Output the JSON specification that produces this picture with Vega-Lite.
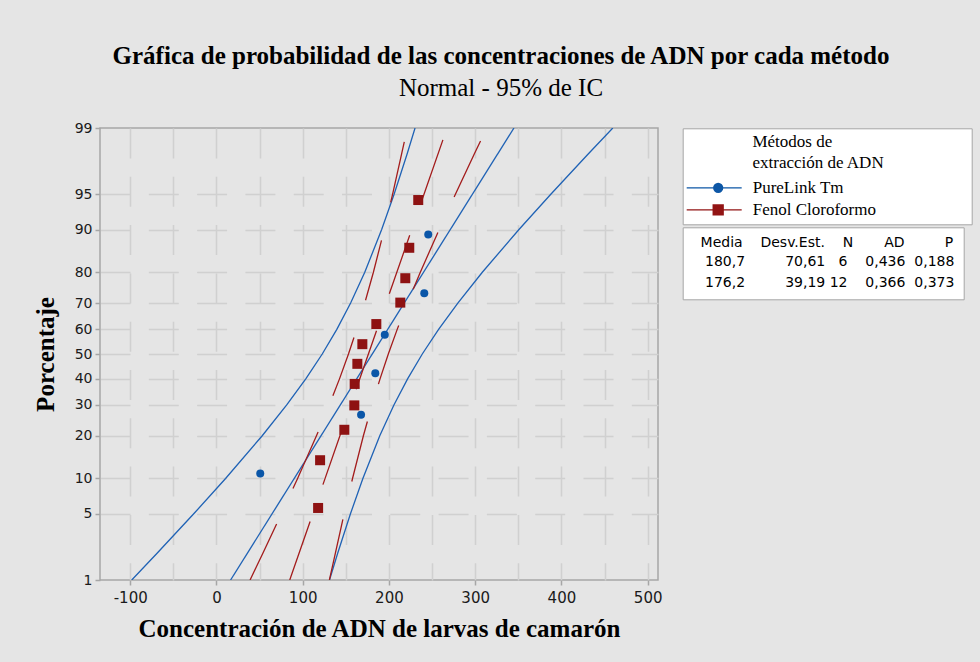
{
  "$schema": "https://vega.github.io/schema/vega-lite/v6.json",
  "width": 558,
  "height": 452,
  "autosize": {"type": "none"},
  "padding": {"left": 100, "top": 128, "right": 322, "bottom": 82},
  "background": "#e5e5e5",
  "title": {
    "text": "Gráfica de probabilidad de las concentraciones de ADN por cada método",
    "subtitle": "Normal - 95% de IC",
    "anchor": "middle",
    "frame": "group",
    "dx": 122,
    "offset": 20,
    "font": "Liberation Serif",
    "fontSize": 25,
    "fontWeight": "bold",
    "color": "#000000",
    "subtitleFont": "Liberation Serif",
    "subtitleFontSize": 25,
    "subtitleFontWeight": "normal",
    "subtitleColor": "#000000",
    "subtitlePadding": 7
  },
  "datasets": {
    "puntos": [
      {"metodo": "PureLink Tm", "pct": 10.94, "conc": 50.8},
      {"metodo": "PureLink Tm", "pct": 26.56, "conc": 167.7},
      {"metodo": "PureLink Tm", "pct": 42.19, "conc": 184.2},
      {"metodo": "PureLink Tm", "pct": 57.81, "conc": 195.2},
      {"metodo": "PureLink Tm", "pct": 73.44, "conc": 241.0},
      {"metodo": "PureLink Tm", "pct": 89.06, "conc": 245.6},
      {"metodo": "Fenol Cloroformo", "pct": 5.65, "conc": 117.9},
      {"metodo": "Fenol Cloroformo", "pct": 13.71, "conc": 120.2},
      {"metodo": "Fenol Cloroformo", "pct": 21.77, "conc": 148.3},
      {"metodo": "Fenol Cloroformo", "pct": 29.84, "conc": 159.9},
      {"metodo": "Fenol Cloroformo", "pct": 37.9, "conc": 160.3},
      {"metodo": "Fenol Cloroformo", "pct": 45.97, "conc": 163.4},
      {"metodo": "Fenol Cloroformo", "pct": 54.03, "conc": 169.2},
      {"metodo": "Fenol Cloroformo", "pct": 62.1, "conc": 185.4},
      {"metodo": "Fenol Cloroformo", "pct": 70.16, "conc": 213.2},
      {"metodo": "Fenol Cloroformo", "pct": 78.23, "conc": 219.0},
      {"metodo": "Fenol Cloroformo", "pct": 86.29, "conc": 223.6},
      {"metodo": "Fenol Cloroformo", "pct": 94.35, "conc": 234.0}
    ],
    "curvas": [
      {"metodo": "PureLink Tm", "linea": "ajuste", "pct": 1, "conc": 16.4},
      {"metodo": "PureLink Tm", "linea": "ajuste", "pct": 99, "conc": 345.0},
      {"metodo": "PureLink Tm", "linea": "inferior", "pct": 1, "conc": -98.2},
      {"metodo": "PureLink Tm", "linea": "inferior", "pct": 2, "conc": -69.1},
      {"metodo": "PureLink Tm", "linea": "inferior", "pct": 5, "conc": -26.3},
      {"metodo": "PureLink Tm", "linea": "inferior", "pct": 10, "conc": 10.6},
      {"metodo": "PureLink Tm", "linea": "inferior", "pct": 20, "conc": 53.1},
      {"metodo": "PureLink Tm", "linea": "inferior", "pct": 30, "conc": 81.5},
      {"metodo": "PureLink Tm", "linea": "inferior", "pct": 40, "conc": 103.8},
      {"metodo": "PureLink Tm", "linea": "inferior", "pct": 50, "conc": 122.7},
      {"metodo": "PureLink Tm", "linea": "inferior", "pct": 60, "conc": 139.6},
      {"metodo": "PureLink Tm", "linea": "inferior", "pct": 70, "conc": 155.6},
      {"metodo": "PureLink Tm", "linea": "inferior", "pct": 80, "conc": 172.0},
      {"metodo": "PureLink Tm", "linea": "inferior", "pct": 90, "conc": 191.6},
      {"metodo": "PureLink Tm", "linea": "inferior", "pct": 95, "conc": 206.0},
      {"metodo": "PureLink Tm", "linea": "inferior", "pct": 98, "conc": 220.9},
      {"metodo": "PureLink Tm", "linea": "inferior", "pct": 99, "conc": 230.3},
      {"metodo": "PureLink Tm", "linea": "superior", "pct": 1, "conc": 131.1},
      {"metodo": "PureLink Tm", "linea": "superior", "pct": 2, "conc": 140.5},
      {"metodo": "PureLink Tm", "linea": "superior", "pct": 5, "conc": 155.4},
      {"metodo": "PureLink Tm", "linea": "superior", "pct": 10, "conc": 169.8},
      {"metodo": "PureLink Tm", "linea": "superior", "pct": 20, "conc": 189.4},
      {"metodo": "PureLink Tm", "linea": "superior", "pct": 30, "conc": 205.8},
      {"metodo": "PureLink Tm", "linea": "superior", "pct": 40, "conc": 221.8},
      {"metodo": "PureLink Tm", "linea": "superior", "pct": 50, "conc": 238.7},
      {"metodo": "PureLink Tm", "linea": "superior", "pct": 60, "conc": 257.6},
      {"metodo": "PureLink Tm", "linea": "superior", "pct": 70, "conc": 279.9},
      {"metodo": "PureLink Tm", "linea": "superior", "pct": 80, "conc": 308.3},
      {"metodo": "PureLink Tm", "linea": "superior", "pct": 90, "conc": 350.8},
      {"metodo": "PureLink Tm", "linea": "superior", "pct": 95, "conc": 387.7},
      {"metodo": "PureLink Tm", "linea": "superior", "pct": 98, "conc": 430.5},
      {"metodo": "PureLink Tm", "linea": "superior", "pct": 99, "conc": 459.6},
      {"metodo": "Fenol Cloroformo", "linea": "ajuste", "pct": 1, "conc": 85.0},
      {"metodo": "Fenol Cloroformo", "linea": "ajuste", "pct": 99, "conc": 267.4},
      {"metodo": "Fenol Cloroformo", "linea": "inferior", "pct": 1, "conc": 39.0},
      {"metodo": "Fenol Cloroformo", "linea": "inferior", "pct": 2, "conc": 53.7},
      {"metodo": "Fenol Cloroformo", "linea": "inferior", "pct": 5, "conc": 75.3},
      {"metodo": "Fenol Cloroformo", "linea": "inferior", "pct": 10, "conc": 94.1},
      {"metodo": "Fenol Cloroformo", "linea": "inferior", "pct": 20, "conc": 116.0},
      {"metodo": "Fenol Cloroformo", "linea": "inferior", "pct": 30, "conc": 130.9},
      {"metodo": "Fenol Cloroformo", "linea": "inferior", "pct": 40, "conc": 142.8},
      {"metodo": "Fenol Cloroformo", "linea": "inferior", "pct": 50, "conc": 153.1},
      {"metodo": "Fenol Cloroformo", "linea": "inferior", "pct": 60, "conc": 162.6},
      {"metodo": "Fenol Cloroformo", "linea": "inferior", "pct": 70, "conc": 172.0},
      {"metodo": "Fenol Cloroformo", "linea": "inferior", "pct": 80, "conc": 182.0},
      {"metodo": "Fenol Cloroformo", "linea": "inferior", "pct": 90, "conc": 194.6},
      {"metodo": "Fenol Cloroformo", "linea": "inferior", "pct": 95, "conc": 204.3},
      {"metodo": "Fenol Cloroformo", "linea": "inferior", "pct": 98, "conc": 214.6},
      {"metodo": "Fenol Cloroformo", "linea": "inferior", "pct": 99, "conc": 221.4},
      {"metodo": "Fenol Cloroformo", "linea": "superior", "pct": 1, "conc": 131.0},
      {"metodo": "Fenol Cloroformo", "linea": "superior", "pct": 2, "conc": 137.8},
      {"metodo": "Fenol Cloroformo", "linea": "superior", "pct": 5, "conc": 148.1},
      {"metodo": "Fenol Cloroformo", "linea": "superior", "pct": 10, "conc": 157.8},
      {"metodo": "Fenol Cloroformo", "linea": "superior", "pct": 20, "conc": 170.4},
      {"metodo": "Fenol Cloroformo", "linea": "superior", "pct": 30, "conc": 180.4},
      {"metodo": "Fenol Cloroformo", "linea": "superior", "pct": 40, "conc": 189.8},
      {"metodo": "Fenol Cloroformo", "linea": "superior", "pct": 50, "conc": 199.3},
      {"metodo": "Fenol Cloroformo", "linea": "superior", "pct": 60, "conc": 209.6},
      {"metodo": "Fenol Cloroformo", "linea": "superior", "pct": 70, "conc": 221.5},
      {"metodo": "Fenol Cloroformo", "linea": "superior", "pct": 80, "conc": 236.4},
      {"metodo": "Fenol Cloroformo", "linea": "superior", "pct": 90, "conc": 258.3},
      {"metodo": "Fenol Cloroformo", "linea": "superior", "pct": 95, "conc": 277.1},
      {"metodo": "Fenol Cloroformo", "linea": "superior", "pct": 98, "conc": 298.7},
      {"metodo": "Fenol Cloroformo", "linea": "superior", "pct": 99, "conc": 313.4}
    ],
    "estad": [
      {"metodo": "PureLink Tm", "media": 180.7, "desv": 70.61, "n": 6, "ad": 0.436, "p": 0.188},
      {"metodo": "Fenol Cloroformo", "media": 176.2, "desv": 39.19, "n": 12, "ad": 0.366, "p": 0.373}
    ]
  },
  "layer": [
    {
      "data": {"name": "curvas"},
      "transform": [
        {"filter": "datum.metodo === 'PureLink Tm'"},
        {"calculate": "quantileNormal(datum.pct / 100)", "as": "z"}
      ],
      "mark": {"type": "line", "color": "#1f62b5", "strokeWidth": 1.3, "clip": true},
      "encoding": {
        "x": {
          "field": "conc", "type": "quantitative",
          "scale": {"domain": [-135, 512], "nice": false, "zero": false},
          "axis": {
            "values": [-100, -50, 0, 50, 100, 150, 200, 250, 300, 350, 400, 450, 500],
            "tickCount": 20,
            "labelExpr": "datum.value % 100 === 0 ? '' + datum.value : ''",
            "tickOpacity": {"condition": {"test": "datum.value % 100 !== 0", "value": 0}, "value": 1},
            "labelFontSize": 15,
            "labelPadding": 5,
            "labelOverlap": false,
            "title": "Concentración de ADN de larvas de camarón",
            "titlePadding": 11
          }
        },
        "y": {
          "field": "z", "type": "quantitative",
          "scale": {"domain": [-2.32635, 2.32635], "nice": false, "zero": false},
          "axis": {
            "values": [-2.32635, -1.64485, -1.28155, -0.84162, -0.5244, -0.25335, 0, 0.25335, 0.5244, 0.84162, 1.28155, 1.64485, 2.32635],
            "tickCount": 20,
            "labelExpr": "format(cumulativeNormal(datum.value) * 100, '.0f')",
            "labelFontSize": 14,
            "labelPadding": 3,
            "labelOverlap": false,
            "gridOpacity": {"condition": {"test": "abs(datum.value) > 2.3", "value": 0}, "value": 1},
            "title": "Porcentaje",
            "titlePadding": 16
          }
        },
        "detail": {"field": "linea"},
        "order": {"field": "pct", "type": "quantitative"}
      }
    },
    {
      "data": {"name": "curvas"},
      "transform": [
        {"filter": "datum.metodo === 'Fenol Cloroformo'"},
        {"calculate": "quantileNormal(datum.pct / 100)", "as": "z"}
      ],
      "mark": {"type": "line", "color": "#a31c1c", "strokeWidth": 1.3, "strokeDash": [62, 39], "clip": true},
      "encoding": {
        "x": {"field": "conc", "type": "quantitative"},
        "y": {"field": "z", "type": "quantitative"},
        "detail": {"field": "linea"},
        "order": {"field": "pct", "type": "quantitative"}
      }
    },
    {
      "data": {"name": "puntos"},
      "transform": [
        {"filter": "datum.metodo === 'PureLink Tm'"},
        {"calculate": "quantileNormal(datum.pct / 100)", "as": "z"}
      ],
      "mark": {"type": "point", "shape": "circle", "filled": true, "size": 64, "color": "#0a56a8", "opacity": 1, "clip": true},
      "encoding": {
        "x": {"field": "conc", "type": "quantitative"},
        "y": {"field": "z", "type": "quantitative"}
      }
    },
    {
      "data": {"name": "puntos"},
      "transform": [
        {"filter": "datum.metodo === 'Fenol Cloroformo'"},
        {"calculate": "quantileNormal(datum.pct / 100)", "as": "z"}
      ],
      "mark": {"type": "point", "shape": "square", "filled": true, "size": 100, "color": "#8e1212", "opacity": 1, "clip": true},
      "encoding": {
        "x": {"field": "conc", "type": "quantitative"},
        "y": {"field": "z", "type": "quantitative"}
      }
    },
    {
      "data": {"name": "estad"},
      "mark": {"type": "point", "filled": false, "opacity": 0},
      "encoding": {
        "stroke": {
          "field": "metodo", "type": "nominal",
          "scale": {"domain": ["PureLink Tm", "Fenol Cloroformo"], "range": ["#0d57a6", "#921414"]},
          "legend": {
            "orient": "none",
            "legendX": 582.7,
            "legendY": 0.3,
            "direction": "vertical",
            "fillColor": "#ffffff",
            "strokeColor": "#a6a6a6",
            "padding": 6,
            "title": ["\u200b\u00a0\u00a0\u00a0\u00a0\u00a0\u00a0\u00a0\u00a0\u00a0\u00a0\u00a0\u00a0\u00a0\u00a0\u00a0Métodos de", "\u200b\u00a0\u00a0\u00a0\u00a0\u00a0\u00a0\u00a0\u00a0\u00a0\u00a0\u00a0\u00a0\u00a0\u00a0\u00a0extracción de ADN\u00a0\u00a0\u00a0\u00a0\u00a0\u00a0\u00a0\u00a0\u00a0\u00a0\u00a0\u00a0\u00a0\u00a0\u00a0\u00a0\u00a0\u00a0\u00a0\u200b"],
            "titleFont": "Liberation Serif",
            "titleFontSize": 17,
            "titleFontWeight": "normal",
            "titleColor": "#000000",
            "titleLineHeight": 21,
            "titlePadding": 7,
            "titleLimit": 0,
            "labelFont": "Liberation Serif",
            "labelFontSize": 17,
            "labelColor": "#000000",
            "labelLimit": 0,
            "labelOffset": 26,
            "rowPadding": 4,
            "symbolSize": 100,
            "symbolStrokeWidth": 1.3,
            "symbolOffset": 21,
            "symbolOpacity": 1
          }
        },
        "shape": {
          "field": "metodo", "type": "nominal",
          "scale": {"domain": ["PureLink Tm", "Fenol Cloroformo"], "range": [
            "M-6.3,0H4.7M0.9,0A0.9,0.9,0,1,1,-0.9,0A0.9,0.9,0,1,1,0.9,0ZM-0.41,-0.8H0.41M-0.67,-0.6H0.67M-0.81,-0.4H0.81M-0.88,-0.2H0.88M-0.88,0.2H0.88M-0.81,0.4H0.81M-0.67,0.6H0.67M-0.41,0.8H0.41",
            "M-6.3,0H4.7M-1,-1H1V1H-1ZM-1,-0.8H1M-1,-0.6H1M-1,-0.4H1M-1,-0.2H1M-1,0.2H1M-1,0.4H1M-1,0.6H1M-1,0.8H1"
          ]}
        }
      }
    },
    {
      "data": {"name": "estad"},
      "transform": [
        {"calculate": "replace(format(datum.media, '.1f'), '.', ',') + '\u2007\u2007\u2007\u2007\u00a0' + replace(format(datum.desv, '.2f'), '.', ',') + '\u00a0' + (datum.n < 10 ? '\u2007' : '') + datum.n + '\u2007\u00a0\u00a0' + replace(format(datum.ad, '.3f'), '.', ',') + '\u00a0\u00a0' + replace(format(datum.p, '.3f'), '.', ',')", "as": "fila"}
      ],
      "mark": {"type": "point", "opacity": 0},
      "encoding": {
        "color": {
          "field": "fila", "type": "nominal", "sort": "descending",
          "scale": {"range": ["transparent", "transparent"]},
          "legend": {
            "orient": "none",
            "legendX": 582.7,
            "legendY": 99.3,
            "direction": "vertical",
            "fillColor": "#ffffff",
            "strokeColor": "#a6a6a6",
            "padding": 9,
            "title": "\u200b\u00a0\u00a0Media\u00a0\u00a0\u00a0\u00a0Desv.Est.\u00a0\u00a0\u00a0\u00a0N\u00a0\u00a0\u00a0\u00a0\u00a0\u00a0\u00a0AD\u00a0\u00a0\u00a0\u00a0\u00a0\u00a0\u00a0\u00a0\u00a0P",
            "titleFont": "DejaVu Sans",
            "titleFontSize": 14,
            "titleFontWeight": "normal",
            "titleColor": "#000000",
            "titlePadding": 5,
            "titleLimit": 0,
            "labelFont": "DejaVu Sans",
            "labelFontSize": 14,
            "labelColor": "#000000",
            "labelLimit": 0,
            "labelOffset": -0.7,
            "rowPadding": 7,
            "symbolSize": 0,
            "symbolStrokeWidth": 0,
            "symbolOpacity": 0
          }
        }
      }
    }
  ],
  "config": {
    "view": {"fill": "#ffffff", "stroke": "#a6a6a6", "strokeWidth": 1.5},
    "axis": {
      "domain": false,
      "tickColor": "#a6a6a6",
      "tickWidth": 1.5,
      "tickSize": 5,
      "grid": true,
      "gridColor": "#d0d0d0",
      "gridWidth": 1.5,
      "gridDash": [30, 18.3],
      "labelFont": "DejaVu Sans",
      "labelColor": "#1a1a1a",
      "titleFont": "Liberation Serif",
      "titleFontSize": 25,
      "titleFontWeight": "bold",
      "titleColor": "#000000"
    }
  }
}
